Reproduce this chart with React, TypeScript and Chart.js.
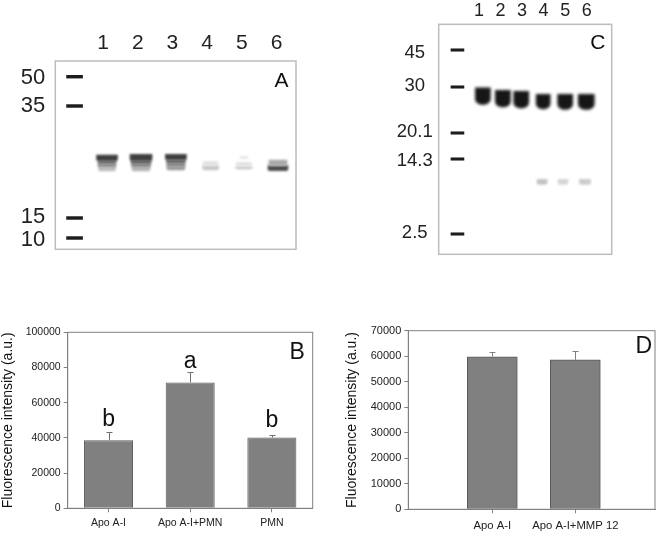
import React, { useEffect, useRef } from "react";
import { Chart, registerables } from "chart.js";

Chart.register(...registerables);

const FONT = "'Liberation Sans', Arial, sans-serif";

// Panel B
const categoriesB = ["Apo A-I", "Apo A-I+PMN", "PMN"];
const valuesB = [38700, 71500, 40200];
const errorTopsB = [43500, 77200, 41400];
const lettersB = ["b", "a", "b"];
const letterValuesB = [50300, 83500, 49900];

// Panel D
const categoriesD = ["Apo A-I", "Apo A-I+MMP 12"];
const positionsD = [0, 1];
const valuesD = [59800, 58600];
const errorTopsD = [61500, 62000];

// Panel A gel (migration distance, arbitrary units from the top of the gel)
const lanesA = [1, 2, 3, 4, 5, 6];
const markerLabelsA = ["50", "35", "15", "10"];
const markerLabelPosA = [17, 45, 156, 179];
const markerPosA = [15.7, 45, 157, 177];
const bandLaneA = [1.115, 1.115, 1.115, 1.115, 2.095, 2.095, 2.095, 2.095, 3.1, 3.1, 3.1, 3.1, 4.1, 4.1, 5.06, 5.06, 5.06, 6.04, 6.04];
const bandFromA = [94, 99.7, 103, 106, 93.3, 99.7, 103, 106, 93.3, 99, 102.5, 105.5, 100.7, 104.7, 95.7, 101.3, 105.7, 99, 104.7];
const bandToA = [99.7, 103, 106, 110, 99.7, 103, 106, 110, 99, 102.5, 105.5, 109, 104.7, 109, 97.3, 104.7, 108, 104.7, 109.7];
const bandShadeA = ["#3f3f3f", "#6e6e6e", "#8c8c8c", "#bdbdbd", "#3f3f3f", "#666666", "#858585", "#b5b5b5", "#3f3f3f", "#6a6a6a", "#858585", "#9a9a9a", "#e2e2e2", "#c8c8c8", "#e4e4e4", "#e2e2e2", "#c8c8c8", "#aaaaaa", "#4f4f4f"];
const bandWidthA = [21, 18, 18, 17, 22, 20, 19, 18, 21, 19, 18, 18, 15, 16, 8, 15, 16, 18, 20];

// Panel C gel
const lanesC = [1, 2, 3, 4, 5, 6];
const markerLabelsC = ["45", "30", "20.1", "14.3", "2.5"];
const markerLabelPosC = [28.7, 61.7, 107.7, 136.7, 208.7];
const markerPosC = [25.7, 62.7, 108.7, 134.7, 209.7];
const bandLaneC = [1.18, 2.11, 2.96, 3.98, 5.0, 5.98];
const bandFromC = [63.5, 66, 67, 70, 70, 70];
const bandToC = [80, 82.5, 83.5, 84.5, 85, 85];
const bandWidthC = [15, 15, 15, 14, 15, 16];
const faintLaneC = [3.93, 4.9, 5.92];
const faintFromC = [155, 155, 155];
const faintToC = [160, 160, 160];
const faintShadeC = ["#c4c4c4", "#d6d6d6", "#cccccc"];
const faintWidthC = [10, 10, 11];

type Box = { x: number; y: number; w: number; h: number };
type Rect = { l: number; t: number; r: number; b: number };

const noMarginsY = (a: any, width: number) => {
  a.width = width;
  a.paddingTop = 0;
  a.paddingBottom = 0;
};
const noMarginsX = (a: any, height: number) => {
  a.height = height;
  a.paddingLeft = 0;
  a.paddingRight = 0;
};

const framePlugin = {
  id: "frame",
  afterDraw(chart: any, _a: any, o: any) {
    const { ctx, chartArea: c } = chart;
    ctx.save();
    ctx.strokeStyle = o.color;
    ctx.lineWidth = o.width;
    ctx.strokeRect(c.left, c.top, c.right - c.left, c.bottom - c.top);
    ctx.restore();
  },
};

const blurPlugin = {
  id: "bandBlur",
  beforeDatasetDraw(chart: any, args: any) {
    const b = chart.data.datasets[args.index].blur;
    chart.ctx.save();
    if (b) chart.ctx.filter = `blur(${b}px)`;
  },
  afterDatasetDraw(chart: any) {
    chart.ctx.restore();
  },
};

const letterPlugin = {
  id: "letters",
  afterDraw(chart: any, _a: any, o: any) {
    const { ctx, chartArea: c, scales } = chart;
    ctx.save();
    ctx.fillStyle = "#111";
    ctx.textAlign = "center";
    ctx.textBaseline = "middle";
    (o.corner || []).forEach((t: any) => {
      ctx.font = `${t.size}px ${FONT}`;
      ctx.fillText(t.text, c.left + t.fx * (c.right - c.left), c.top + t.fy * (c.bottom - c.top));
    });
    (o.onBars || []).forEach((t: any) => {
      ctx.font = `${t.size}px ${FONT}`;
      ctx.fillText(t.text, scales.x.getPixelForValue(t.index), scales.y.getPixelForValue(t.value));
    });
    ctx.restore();
  },
};

const errorPlugin = {
  id: "errorBars",
  afterDatasetsDraw(chart: any, _a: any, o: any) {
    const { ctx, scales } = chart;
    ctx.save();
    ctx.strokeStyle = o.color;
    ctx.lineWidth = 1;
    o.tops.forEach((top: number, i: number) => {
      const x = Math.round(scales.x.getPixelForValue(o.xs[i])) + 0.5;
      const y0 = scales.y.getPixelForValue(o.bases[i]);
      const y1 = Math.round(scales.y.getPixelForValue(top)) + 0.5;
      ctx.beginPath();
      ctx.moveTo(x, y0);
      ctx.lineTo(x, y1);
      ctx.moveTo(x - 3, y1);
      ctx.lineTo(x + 3, y1);
      ctx.stroke();
    });
    ctx.restore();
  },
};

function gelConfig(p: {
  region: Box; plot: Rect; lanes: number[]; xMin: number; xMax: number; yMax: number;
  markerLabels: string[]; markerLabelPos: number[]; labelFont: number; laneFont: number; lanePad: number; tickPad: number;
  crossAlign: string; datasets: any[]; letter: any;
}) {
  return {
    type: "bar",
    data: { datasets: p.datasets },
    plugins: [blurPlugin, framePlugin, letterPlugin],
    options: {
      animation: false,
      responsive: false,
      layout: { padding: { left: 0, top: 0, right: p.region.x + p.region.w - p.plot.r, bottom: p.region.y + p.region.h - p.plot.b } },
      datasets: { bar: { grouped: false } },
      plugins: {
        legend: { display: false },
        tooltip: { enabled: false },
        frame: { color: "#bdbdbd", width: 1.5 },
        letters: { corner: [p.letter] },
      },
      scales: {
        x: {
          type: "linear",
          position: "top",
          offset: false,
          min: p.xMin,
          max: p.xMax,
          grid: { display: false, drawTicks: false },
          border: { display: false },
          afterFit: (a: any) => noMarginsX(a, p.plot.t - p.region.y),
          afterBuildTicks: (a: any) => { a.ticks = p.lanes.map((value) => ({ value })); },
          ticks: {
            autoSkip: false, maxRotation: 0, padding: p.lanePad, color: "#222",
            font: { family: FONT, size: p.laneFont },
            callback: (v: any) => String(v),
          },
        },
        y: {
          type: "linear",
          reverse: true,
          min: 0,
          max: p.yMax,
          grid: { display: false, drawTicks: false },
          border: { display: false },
          afterFit: (a: any) => noMarginsY(a, p.plot.l - p.region.x),
          afterBuildTicks: (a: any) => { a.ticks = p.markerLabelPos.map((value) => ({ value })); },
          ticks: {
            autoSkip: false, padding: p.tickPad, color: "#222", crossAlign: p.crossAlign,
            font: { family: FONT, size: p.labelFont },
            callback: (_v: any, i: number) => p.markerLabels[i],
          },
        },
      },
    },
  };
}

function markerDatasets(pos: number[], lane: number, width: number, half: number) {
  return pos.map((v) => ({
    data: [{ x: lane, y: [v - half, v + half] }],
    backgroundColor: "#1c1c1c",
    barThickness: width,
    blur: 0.3,
  }));
}

function barConfig(p: {
  region: Box; plot: Rect; labels: any; values: any; xOptions: any; yMax: number; yStep: number; tickFont: number;
  barPercent: any; errors: any; letters: any;
}) {
  return {
    type: "bar",
    data: {
      labels: p.labels,
      datasets: [{
        data: p.values,
        backgroundColor: "#808080",
        borderColor: "#5a5a5a",
        borderWidth: 1,
        ...p.barPercent,
      }],
    },
    plugins: [errorPlugin, framePlugin, letterPlugin],
    options: {
      animation: false,
      responsive: false,
      layout: { padding: { left: 0, top: p.plot.t - p.region.y, bottom: 0, right: p.region.x + p.region.w - p.plot.r } },
      plugins: {
        legend: { display: false },
        tooltip: { enabled: false },
        frame: { color: "#808080", width: 1 },
        errorBars: p.errors,
        letters: p.letters,
      },
      scales: {
        x: {
          ...p.xOptions,
          afterFit: (a: any) => noMarginsX(a, p.region.y + p.region.h - p.plot.b),
        },
        y: {
          min: 0,
          max: p.yMax,
          grid: { drawOnChartArea: false, tickLength: 4, color: "#808080" },
          border: { color: "#808080" },
          afterFit: (a: any) => noMarginsY(a, p.plot.l - p.region.x),
          ticks: {
            stepSize: p.yStep, padding: 3, color: "#222",
            font: { family: FONT, size: p.tickFont },
            callback: (v: any) => String(v),
          },
          title: {
            display: true, text: "Fluorescence intensity (a.u.)", color: "#111", padding: 0,
            font: { family: FONT, size: 14 },
          },
        },
      },
    },
  };
}

const regionA = { x: 0, y: 20, w: 310, h: 240 };
const plotA = { l: 55.3, t: 61, r: 296, b: 249.3 };
const regionC = { x: 390, y: 0, w: 240, h: 265 };
const plotC = { l: 438.7, t: 24.3, r: 611.7, b: 254.3 };
const regionB = { x: 0, y: 320, w: 325, h: 213 };
const plotB = { l: 67.7, t: 332.3, r: 312.7, b: 508.3 };
const regionD = { x: 344, y: 320, w: 317, h: 213 };
const plotD = { l: 408.3, t: 330.7, r: 655, b: 509.3 };

function buildConfigs(): { region: Box; config: any }[] {
  const gelA = gelConfig({
    region: regionA, plot: plotA, lanes: lanesA, xMin: -0.375, xMax: 6.56, yMax: 188.3,
    markerLabels: markerLabelsA, markerLabelPos: markerLabelPosA, labelFont: 22, laneFont: 21, lanePad: 5, tickPad: 10,
    crossAlign: "near",
    letter: { text: "A", fx: 0.94, fy: 0.106, size: 21 },
    datasets: [
      ...markerDatasets(markerPosA, 0.18, 16, 1.4),
      ...bandLaneA.map((lane, i) => ({
        data: [{ x: lane, y: [bandFromA[i], bandToA[i]] }],
        backgroundColor: bandShadeA[i],
        barThickness: bandWidthA[i],
        borderRadius: 2,
        blur: 1.2,
      })),
    ],
  });
  const gelC = gelConfig({
    region: regionC, plot: plotC, lanes: lanesC, xMin: -0.87, xMax: 7.16, yMax: 230,
    markerLabels: markerLabelsC, markerLabelPos: markerLabelPosC, labelFont: 18.5, laneFont: 18, lanePad: 2, tickPad: 6,
    crossAlign: "center",
    letter: { text: "C", fx: 0.92, fy: 0.081, size: 21 },
    datasets: [
      ...markerDatasets(markerPosC, 0, 13, 1.2),
      ...bandLaneC.map((lane, i) => ({
        data: [{ x: lane, y: [bandFromC[i], bandToC[i]] }],
        backgroundColor: "#161616",
        barThickness: bandWidthC[i],
        borderRadius: 6,
        blur: 1.6,
      })),
      ...faintLaneC.map((lane, i) => ({
        data: [{ x: lane, y: [faintFromC[i], faintToC[i]] }],
        backgroundColor: faintShadeC[i],
        barThickness: faintWidthC[i],
        borderRadius: 2,
        blur: 1.3,
      })),
    ],
  });
  const barB = barConfig({
    region: regionB, plot: plotB, labels: categoriesB, values: valuesB, yMax: 100000, yStep: 20000, tickFont: 10.5,
    barPercent: { barPercentage: 0.6, categoryPercentage: 1 },
    errors: { tops: errorTopsB, bases: valuesB, xs: [0, 1, 2], color: "#707070" },
    letters: {
      corner: [{ text: "B", fx: 0.937, fy: 0.118, size: 23 }],
      onBars: lettersB.map((text, index) => ({ text, index, value: letterValuesB[index], size: 23 })),
    },
    xOptions: {
      grid: { drawOnChartArea: false, tickLength: 4, color: "#808080", offset: false },
      border: { color: "#808080" },
      ticks: { padding: 5, color: "#222", maxRotation: 0, font: { family: FONT, size: 10.5 } },
    },
  });
  const barD = barConfig({
    region: regionD, plot: plotD, labels: undefined,
    values: positionsD.map((x, i) => ({ x, y: valuesD[i] })),
    yMax: 70000, yStep: 10000, tickFont: 11,
    barPercent: { barThickness: 50 },
    errors: { tops: errorTopsD, bases: valuesD, xs: positionsD, color: "#808080" },
    letters: { corner: [{ text: "D", fx: 0.955, fy: 0.09, size: 23 }] },
    xOptions: {
      type: "linear",
      offset: false,
      min: -1.012,
      max: 1.96,
      grid: { drawOnChartArea: false, tickLength: 4, color: "#808080", offset: false },
      border: { color: "#808080" },
      afterBuildTicks: (a: any) => { a.ticks = positionsD.map((value) => ({ value })); },
      ticks: {
        padding: 6, color: "#222", maxRotation: 0, autoSkip: false,
        font: { family: FONT, size: 11.3 },
        callback: (_v: any, i: number) => categoriesD[i],
      },
    },
  });
  return [
    { region: regionA, config: gelA },
    { region: regionC, config: gelC },
    { region: regionB, config: barB },
    { region: regionD, config: barD },
  ];
}

function Panel({ region, config }: { region: Box; config: any }) {
  const ref = useRef<HTMLCanvasElement>(null);
  useEffect(() => {
    const chart = new Chart(ref.current as any, config);
    return () => chart.destroy();
  }, [config]);
  return (
    <canvas
      ref={ref}
      width={region.w}
      height={region.h}
      style={{ position: "absolute", left: region.x, top: region.y, width: region.w, height: region.h }}
    />
  );
}

const panels = buildConfigs();

export default function App() {
  return (
    <div style={{ position: "absolute", left: 0, top: 0, width: 661, height: 533, overflow: "hidden", background: "#fff" }}>
      {panels.map((p, i) => <Panel key={i} region={p.region} config={p.config} />)}
    </div>
  );
}
